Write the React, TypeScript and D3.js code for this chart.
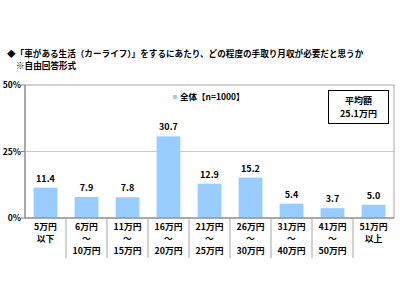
import React from "react";
import * as d3 from "d3";

const categories: string[][] = [
  ["5万円", "以下"],
  ["6万円", "～", "10万円"],
  ["11万円", "～", "15万円"],
  ["16万円", "～", "20万円"],
  ["21万円", "～", "25万円"],
  ["26万円", "～", "30万円"],
  ["31万円", "～", "40万円"],
  ["41万円", "～", "50万円"],
  ["51万円", "以上"],
];
const values = [11.4, 7.9, 7.8, 30.7, 12.9, 15.2, 5.4, 3.7, 5.0];
const yTicks = [0, 25, 50];

const titleLines = [
  "◆「車がある生活（カーライフ）」をするにあたり、どの程度の手取り月収が必要だと思うか",
  "※自由回答形式",
];
const legendLabel = "全体【n=1000】";
const avgLines = ["平均額", "25.1万円"];

const font = "'Noto Sans CJK JP', 'Noto Sans', sans-serif";

export default function App() {
  const W = 400, H = 300;
  const m = { left: 25, right: 394, top: 85, bottom: 218 };

  const x = d3.scaleBand<number>()
    .domain(d3.range(values.length))
    .range([m.left, m.right])
    .paddingInner(0.42)
    .paddingOuter(0.21);
  const y = d3.scaleLinear().domain([0, 50]).range([m.bottom, m.top]);
  const step = x.step();

  return (
    <svg width={W} height={H} style={{ position: "absolute", left: 0, top: 0, background: "#fff" }} fontFamily={font}>
      <rect x={0} y={0} width={W} height={H} fill="#fff" />
      {titleLines.map((t, i) => (
        <text key={i} x={i === 0 ? 7 : 16} y={57 + i * 12} fontSize={8.6} fontWeight="bold" fill="#000">{t}</text>
      ))}

      {/* plot frame */}
      <rect x={m.left} y={m.top} width={m.right - m.left} height={m.bottom - m.top} fill="none" stroke="#a6a6a6" strokeWidth={1} />
      {yTicks.filter(t => t > 0 && t < 50).map(t => (
        <line key={t} x1={m.left} x2={m.right} y1={y(t)} y2={y(t)} stroke="#c8c8c8" />
      ))}
      <line x1={m.left} x2={m.left} y1={m.top} y2={m.bottom} stroke="#808080" />
      {yTicks.map(t => (
        <g key={t}>
          <line x1={m.left - 4} x2={m.left} y1={y(t)} y2={y(t)} stroke="#808080" />
          <text x={m.left - 4} y={y(t) + 3} textAnchor="end" fontSize={8.5} fontWeight="bold">{t}%</text>
        </g>
      ))}

      {values.map((v, i) => (
        <g key={i}>
          <rect x={x(i)} y={y(v)} width={x.bandwidth()} height={m.bottom - y(v)} fill="#99ccff" />
          <text x={(x(i) as number) + x.bandwidth() / 2} y={y(v) - 6} textAnchor="middle" fontSize={9} fontWeight="bold">{v.toFixed(1)}</text>
        </g>
      ))}
      <line x1={m.left} x2={m.right} y1={m.bottom} y2={m.bottom} stroke="#808080" />

      {categories.map((lines, i) => {
        const cx = m.left + step * i + step / 2;
        return (
          <g key={i}>
            {i > 0 && <line x1={m.left + step * i} x2={m.left + step * i} y1={m.bottom} y2={258} stroke="#a6a6a6" />}
            {lines.map((l, j) => (
              <text key={j} x={cx} y={230 + j * 12} textAnchor="middle" fontSize={8.8} fontWeight="bold">{l}</text>
            ))}
          </g>
        );
      })}

      {/* legend */}
      <rect x={173} y={95} width={4} height={4} fill="#99ccff" />
      <text x={180} y={100} fontSize={8.5} fontWeight="bold">{legendLabel}</text>

      {/* average box */}
      <rect x={328.5} y={90.5} width={60} height={33} fill="#fff" stroke="#000" />
      {avgLines.map((t, i) => (
        <text key={i} x={358.5} y={104 + i * 13} textAnchor="middle" fontSize={9} fontWeight="bold">{t}</text>
      ))}
    </svg>
  );
}
